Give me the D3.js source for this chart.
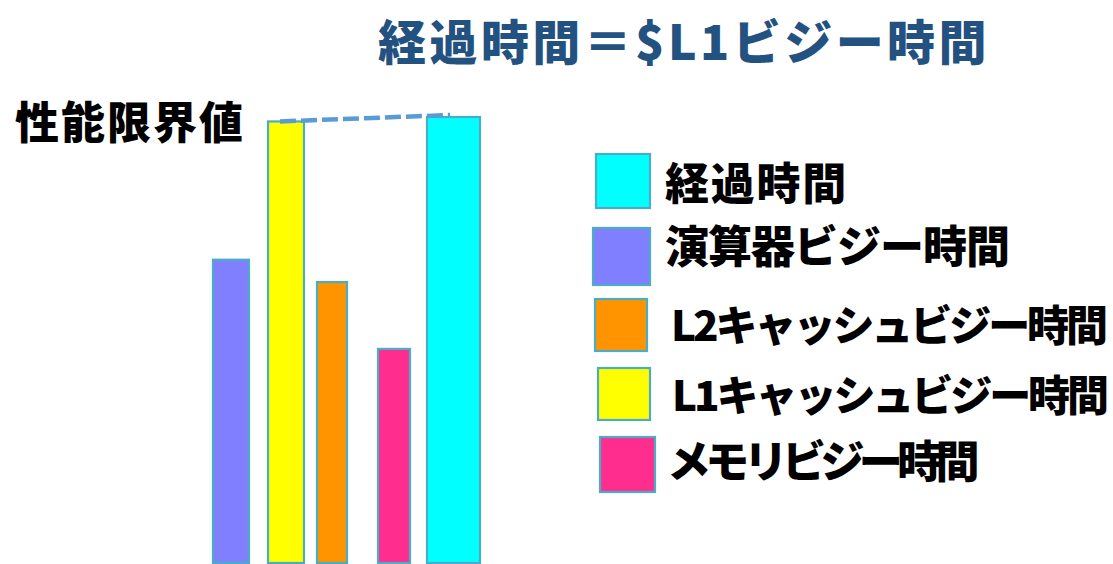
<!DOCTYPE html>
<html>
<head>
<meta charset="utf-8">
<script src="https://cdn.jsdelivr.net/npm/d3@7/dist/d3.min.js"></script>
<style>
  html, body { margin: 0; padding: 0; background: #fff; }
  svg { display: block; }
  text { font-family: "Noto Sans CJK JP", "Noto Sans", sans-serif; font-weight: 900; }
</style>
</head>
<body>
<svg id="chart" width="1113" height="564"></svg>
<script>
// Busy-time components (relative, elapsed time = 100)
const categories = ["演算器ビジー時間", "L1キャッシュビジー時間", "L2キャッシュビジー時間", "メモリビジー時間", "経過時間"];
const values = [68, 99, 63, 48, 100];
const colors = ["#7F7FFF", "#FFFF00", "#FF9400", "#FF2E8E", "#00FFFF"];
const legendOrder = ["経過時間", "演算器ビジー時間", "L2キャッシュビジー時間", "L1キャッシュビジー時間", "メモリビジー時間"];
const titleText = "経過時間＝$L1ビジー時間";
const limitLabel = "性能限界値";

// Layout: horizontal placement of each bar (pixels)
const barLayout = [
  { left: 213, width: 36 },
  { left: 268, width: 36 },
  { left: 317, width: 30 },
  { left: 378, width: 32 },
  { left: 427, width: 53 }
];
const legendLayout = [
  { sx: 596, sy: 154, s: 54, tx: 665, ty: 181, tw: 183, fs: 44 },
  { sx: 593, sy: 228, s: 57, tx: 665, ty: 244, tw: 344, fs: 44 },
  { sx: 595, sy: 299, s: 52, tx: 671, ty: 322, tw: 434, fs: 42 },
  { sx: 598, sy: 368, s: 52, tx: 672, ty: 392, tw: 434, fs: 42 },
  { sx: 600, sy: 437, s: 55, tx: 667, ty: 459, tw: 307, fs: 44 }
];

const svg = d3.select("#chart");
const color = d3.scaleOrdinal().domain(categories).range(colors);
const y = d3.scaleLinear().domain([0, 100]).range([563, 117]);

// Tighten or widen letter spacing so a text run spans the given width
function fitWidth(sel, width) {
  sel.each(function (d, i) {
    const w = typeof width === "function" ? width(d, i) : width;
    const n = this.textContent.length;
    const natural = this.getComputedTextLength();
    const ls = (w - natural) / n;
    d3.select(this).attr("letter-spacing", ls);
  });
}

// Title
svg.append("text")
  .attr("x", 378).attr("y", 39)
  .attr("dominant-baseline", "central")
  .attr("font-size", 48)
  .attr("fill", "#245280")
  .text(titleText)
  .call(fitWidth, 612);

// Performance-limit label
svg.append("text")
  .attr("x", 15).attr("y", 120)
  .attr("dominant-baseline", "central")
  .attr("font-size", 44)
  .attr("fill", "#000")
  .text(limitLabel)
  .call(fitWidth, 230);

// Bars
const bars = categories.map((c, i) => ({ c, v: values[i], ...barLayout[i] }));
svg.selectAll("rect.bar").data(bars).join("rect")
  .attr("class", "bar")
  .attr("x", d => d.left)
  .attr("y", d => y(d.v))
  .attr("width", d => d.width)
  .attr("height", d => y(0) - y(d.v))
  .attr("fill", d => color(d.c))
  .attr("stroke", "#4BACC6")
  .attr("stroke-width", 2.2);

// Dashed line joining the L1 busy time and the elapsed time
const l1 = bars[1], el = bars[4];
svg.append("line")
  .attr("x1", l1.left + 12).attr("y1", y(l1.v))
  .attr("x2", el.left + 23).attr("y2", y(el.v) - 2)
  .attr("stroke", "#5B9BD5")
  .attr("stroke-width", 4.5)
  .attr("stroke-dasharray", "16 5");

// Legend
const legend = svg.selectAll("g.legend").data(legendOrder).join("g").attr("class", "legend");
legend.append("rect")
  .attr("x", (d, i) => legendLayout[i].sx)
  .attr("y", (d, i) => legendLayout[i].sy)
  .attr("width", (d, i) => legendLayout[i].s)
  .attr("height", (d, i) => legendLayout[i].s)
  .attr("fill", d => color(d))
  .attr("stroke", "#4BACC6")
  .attr("stroke-width", 2.2);
legend.append("text")
  .attr("x", (d, i) => legendLayout[i].tx)
  .attr("y", (d, i) => legendLayout[i].ty)
  .attr("dominant-baseline", "central")
  .attr("font-size", (d, i) => legendLayout[i].fs)
  .attr("fill", "#000")
  .text(d => d)
  .call(fitWidth, (d, i) => legendLayout[i].tw);
</script>
</body>
</html>
